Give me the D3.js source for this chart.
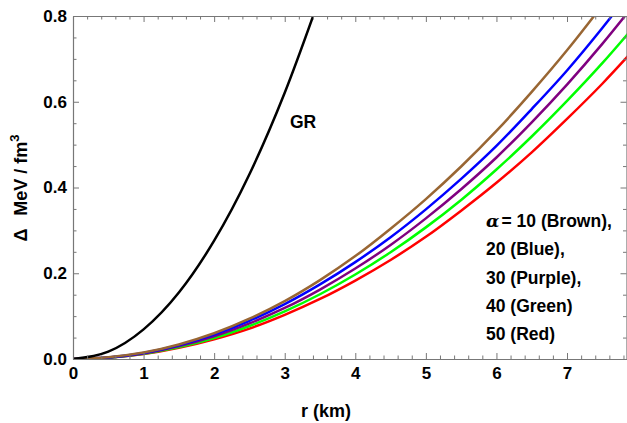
<!DOCTYPE html>
<html><head><meta charset="utf-8">
<script src="https://cdn.jsdelivr.net/npm/d3@7"></script>
<style>
html,body{margin:0;padding:0;background:#fff;}
svg{display:block;font-family:"Liberation Sans",Arial,sans-serif;}
</style></head>
<body><svg id="c" width="627" height="423"></svg>
<script>
// radius samples (km)
const rValues = [0,0.5,1,1.5,2,2.5,3,3.5,4,4.5,5,5.5,6,6.5,7,7.5,8];
const grR = [0,0.5,1,1.5,2,2.5,3,3.5];
const grValues = [0,0.017,0.069,0.155,0.276,0.431,0.621,0.845];
const brownValues  = [0,0.004,0.015,0.034,0.060,0.094,0.135,0.184,0.240,0.304,0.373,0.449,0.532,0.623,0.720,0.825,0.935];
const blueValues   = [0,0.0035,0.014,0.032,0.057,0.089,0.128,0.174,0.226,0.284,0.349,0.420,0.497,0.583,0.673,0.772,0.878];
const purpleValues = [0,0.0033,0.013,0.030,0.053,0.083,0.119,0.162,0.211,0.266,0.328,0.396,0.470,0.552,0.640,0.735,0.837];
const greenValues  = [0,0.003,0.0123,0.028,0.049,0.077,0.111,0.151,0.197,0.249,0.307,0.371,0.442,0.519,0.602,0.690,0.785];
const redValues    = [0,0.0029,0.0114,0.026,0.046,0.071,0.103,0.140,0.183,0.231,0.285,0.346,0.411,0.482,0.560,0.642,0.731];
const seriesNames  = ["Brown","Blue","Purple","Green","Red"];
const seriesColors = ["#996633","#0000ff","#800080","#00ff00","#ff0000"];
const legendLines  = ["10 (Brown),","20 (Blue),","30 (Purple),","40 (Green)","50 (Red)"];
const xTicks = [0,1,2,3,4,5,6,7];
const yTicks = [0,0.2,0.4,0.6,0.8];

const svg = d3.select("#c");
const L=73, R=627, T=16, B=359;
const x = d3.scaleLinear().domain([0,7.85]).range([L,R]);
const y = d3.scaleLinear().domain([0,0.8]).range([B,T]);
const axisColor = "#777";

svg.append("defs").append("clipPath").attr("id","clip")
  .append("rect").attr("x",L).attr("y",T).attr("width",R-L).attr("height",B-T);

const line = d3.line().x(d=>x(d[0])).y(d=>y(d[1])).curve(d3.curveMonotoneX);
const g = svg.append("g").attr("clip-path","url(#clip)");

const allSeries = [brownValues,blueValues,purpleValues,greenValues,redValues];
allSeries.slice().reverse().forEach((vals,i)=>{
  const idx = allSeries.length-1-i;
  g.append("path").datum(rValues.map((r,j)=>[r,vals[j]]))
   .attr("d",line).attr("fill","none").attr("stroke",seriesColors[idx]).attr("stroke-width",2.5);
});
g.append("path").datum(grR.map((r,j)=>[r,grValues[j]]))
  .attr("d",line).attr("fill","none").attr("stroke","#000").attr("stroke-width",2.5);

// axes / frame
function styleAxis(sel){
  sel.selectAll("path.domain").attr("stroke",axisColor).attr("stroke-width",1.2);
  sel.selectAll(".tick line").attr("stroke",axisColor).attr("stroke-width",1);
}
const xMinor = d3.range(0,7.85,0.2).filter(v=>Math.abs(v-Math.round(v))>1e-6);
const yMinor = d3.range(0,0.8001,0.05).filter(v=>Math.abs(v*5-Math.round(v*5))>1e-6);

const xb = svg.append("g").attr("transform",`translate(0,${B})`)
  .call(d3.axisBottom(x).tickValues(xTicks).tickSizeInner(-6).tickSizeOuter(0).tickPadding(8).tickFormat(d3.format("d")));
styleAxis(xb);
svg.append("g").attr("transform",`translate(0,${B})`)
  .call(d3.axisBottom(x).tickValues(xMinor).tickSize(-3.5).tickFormat("")).call(styleAxis)
  .select("path.domain").remove();
const xt = svg.append("g").attr("transform",`translate(0,${T})`)
  .call(d3.axisTop(x).tickValues(xTicks).tickSizeInner(-6).tickSizeOuter(0).tickFormat(""));
styleAxis(xt);
svg.append("g").attr("transform",`translate(0,${T})`)
  .call(d3.axisTop(x).tickValues(xMinor).tickSize(-3.5).tickFormat("")).call(styleAxis)
  .select("path.domain").remove();

const yl = svg.append("g").attr("transform",`translate(${L},0)`)
  .call(d3.axisLeft(y).tickValues(yTicks).tickSizeInner(-6).tickSizeOuter(0).tickPadding(6).tickFormat(d3.format(".1f")));
styleAxis(yl);
svg.append("g").attr("transform",`translate(${L},0)`)
  .call(d3.axisLeft(y).tickValues(yMinor).tickSize(-3.5).tickFormat("")).call(styleAxis)
  .select("path.domain").remove();
const yr = svg.append("g").attr("transform",`translate(${R-0.5},0)`)
  .call(d3.axisRight(y).tickValues(yTicks).tickSizeInner(-6).tickSizeOuter(0).tickFormat(""));
styleAxis(yr);
svg.append("g").attr("transform",`translate(${R-0.5},0)`)
  .call(d3.axisRight(y).tickValues(yMinor).tickSize(-3.5).tickFormat("")).call(styleAxis)
  .select("path.domain").remove();

svg.selectAll(".tick text").attr("font-size",17).attr("font-weight","bold")
  .attr("fill","#000").attr("font-family","'Liberation Sans',Arial,sans-serif");

// axis labels
svg.append("text").attr("x",326).attr("y",417).attr("text-anchor","middle")
  .attr("font-size",18).attr("font-weight","bold").text("r (km)");
const yLab = svg.append("text").attr("transform","translate(27,188) rotate(-90)")
  .attr("text-anchor","middle").attr("font-size",18).attr("font-weight","bold");
yLab.append("tspan").text("Δ");
yLab.append("tspan").attr("dx",13).text("MeV / fm");
yLab.append("tspan").attr("dy",-8).attr("font-size",13).text("3");

// GR label
svg.append("text").attr("x",290).attr("y",128).attr("font-size",17.5)
  .attr("font-weight","bold").text("GR");

// legend text
const leg = svg.append("g").attr("font-size",17.5).attr("font-weight","bold");
legendLines.forEach((t,i)=>{
  const tx = leg.append("text").attr("x",486).attr("y",227+i*28.3);
  if(i===0){
    tx.append("tspan").attr("font-style","italic").attr("font-family","'DejaVu Serif',serif").text("α");
    tx.append("tspan").attr("dx",2).text("= ");
  }
  tx.append("tspan").text(t);
});
</script></body></html>
